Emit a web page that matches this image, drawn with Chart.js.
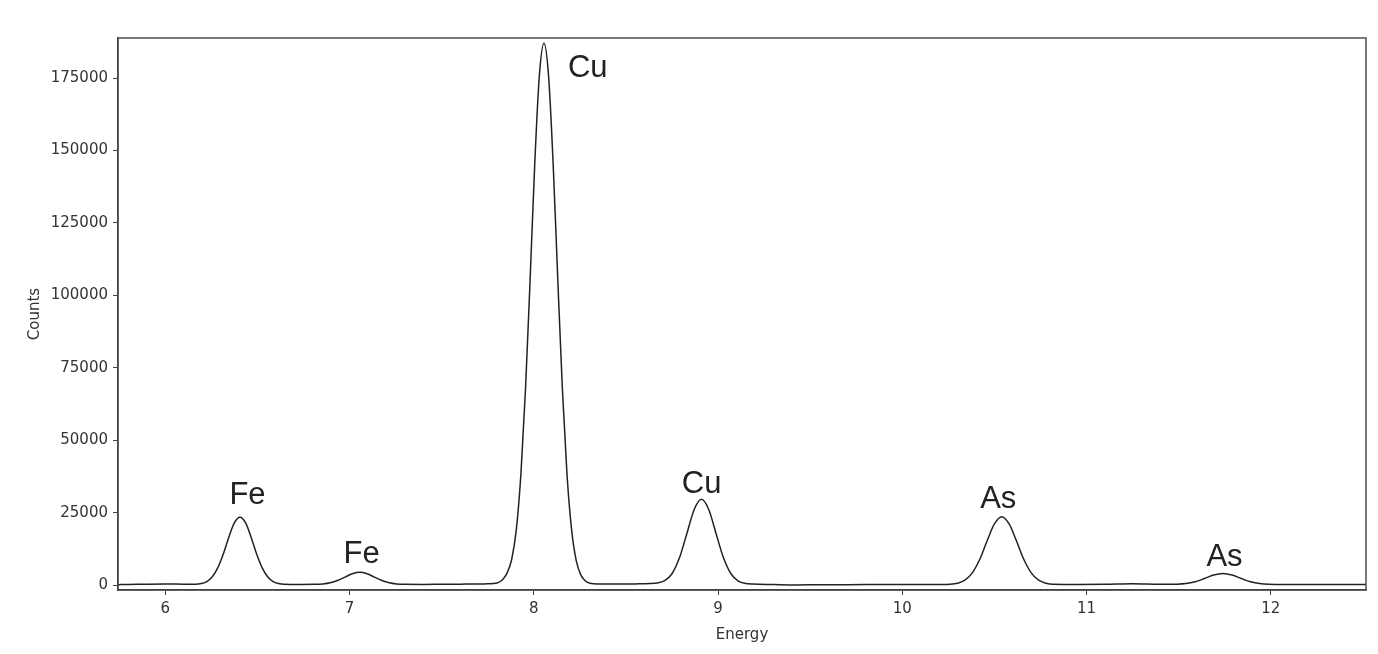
<!DOCTYPE html>
<html>
<head>
<meta charset="utf-8">
<script src="https://cdn.jsdelivr.net/npm/chart.js@4/dist/chart.umd.min.js"></script>
<style>
  html, body { margin: 0; padding: 0; background: #ffffff; }
  .chart-box { width: 1378px; height: 654px; }
</style>
</head>
<body>
<div class="chart-box">
  <canvas id="spectrum" width="1378" height="654"></canvas>
</div>
<script>
// Spectrum (energy in keV, counts)
const energy = [
  5.743, 5.80, 5.90, 6.00, 6.10,
  6.165, 6.195, 6.225, 6.255, 6.285, 6.315, 6.345, 6.375, 6.405, 6.435, 6.465, 6.495, 6.525, 6.555, 6.585, 6.615, 6.645,
  6.73,
  6.815, 6.855, 6.895, 6.935, 6.975, 7.015, 7.055, 7.095, 7.135, 7.175, 7.215, 7.255, 7.295,
  7.40, 7.50, 7.60, 7.70,
  7.75, 7.80, 7.83, 7.855, 7.88, 7.905, 7.93, 7.955, 7.98, 8.005, 8.03, 8.055, 8.08, 8.105, 8.13, 8.155, 8.18, 8.205, 8.23, 8.255, 8.28, 8.305, 8.35,
  8.45, 8.55,
  8.63, 8.67, 8.71, 8.75, 8.79, 8.83, 8.87, 8.91, 8.95, 8.99, 9.03, 9.07, 9.11, 9.15, 9.19,
  9.30, 9.42, 9.55, 9.70, 9.90, 10.10, 10.20,
  10.26, 10.30, 10.34, 10.38, 10.42, 10.46, 10.50, 10.54, 10.58, 10.62, 10.66, 10.70, 10.74, 10.78, 10.82,
  10.95, 11.10, 11.25, 11.40,
  11.49, 11.54, 11.59, 11.64, 11.69, 11.74, 11.79, 11.84, 11.89, 11.94, 11.99,
  12.10, 12.25, 12.40, 12.517
];
const counts = [
  250, 300, 420, 480, 400,
  390, 630, 1300, 2950, 6100, 10900, 16700, 21600, 23500, 21600, 16700, 10900, 6100, 2950, 1300, 630, 390,
  320,
  350, 480, 870, 1660, 2850, 4000, 4500, 4000, 2850, 1660, 870, 480, 350,
  330, 380, 420, 470,
  550, 800, 1900, 4300, 9000, 19200, 38400, 67800, 105700, 145300, 175800, 187000, 175800, 145300, 105700, 67800, 38400, 19200, 8600, 3600, 1500, 700, 480,
  450, 500,
  600, 800, 1600, 4000, 9400, 17700, 26100, 29700, 26100, 17700, 9400, 4000, 1500, 660, 450,
  300, 150, 220, 250, 260, 300, 330,
  400, 735, 1770, 4300, 8900, 15300, 21200, 23700, 21200, 15300, 8900, 4300, 1770, 735, 400,
  330, 380, 550, 380,
  420, 620, 1250, 2350, 3560, 4100, 3560, 2350, 1250, 620, 400,
  330, 300, 320, 330
];

// Peak labels
const peakNames = ["Fe", "Fe", "Cu", "Cu", "As", "As"];
const peakEnergy = [6.446, 7.065, 8.293, 8.911, 10.521, 11.749];
const peakCounts = [27900, 7800, 175200, 31900, 26800, 6800];

// Axis ticks
const energyTicks = [6, 7, 8, 9, 10, 11, 12];
const countTicks = [0, 25000, 50000, 75000, 100000, 125000, 150000, 175000];

const INK = "#222222";
const AXIS = "#444444";
const tickFont = { family: "'DejaVu Sans'", size: 15 };

// Full box round the plot, like the reference
const frame = {
  id: "frame",
  afterDraw: (chart) => {
    const { ctx, chartArea: a } = chart;
    ctx.save();
    ctx.strokeStyle = AXIS;
    ctx.lineWidth = 1.4;
    ctx.strokeRect(a.left, a.top, a.right - a.left, a.bottom - a.top);
    ctx.restore();
  }
};

// Element names drawn at data positions
const peakLabels = {
  id: "peakLabels",
  afterDatasetsDraw: (chart) => {
    const { ctx, scales } = chart;
    ctx.save();
    ctx.fillStyle = INK;
    ctx.font = "31px 'Liberation Sans'";
    ctx.textAlign = "center";
    ctx.textBaseline = "alphabetic";
    peakNames.forEach((name, i) => {
      ctx.fillText(name, scales.x.getPixelForValue(peakEnergy[i]), scales.y.getPixelForValue(peakCounts[i]));
    });
    ctx.restore();
  }
};

const ctx = document.getElementById("spectrum").getContext("2d");
new Chart(ctx, {
  type: "line",
  data: {
    datasets: [{
      data: energy.map((e, i) => ({ x: e, y: counts[i] })),
      borderColor: INK,
      borderWidth: 1.5,
      pointRadius: 0,
      fill: false,
      cubicInterpolationMode: "monotone"
    }]
  },
  options: {
    responsive: false,
    animation: false,
    layout: { padding: { top: 38, right: 12, bottom: 0, left: 0 } },
    plugins: { legend: { display: false }, tooltip: { enabled: false } },
    scales: {
      x: {
        type: "linear",
        min: 5.743,
        max: 12.517,
        afterBuildTicks: (s) => { s.ticks = energyTicks.map(v => ({ value: v })); },
        afterFit: (s) => { s.height = 64; },
        grid: { drawOnChartArea: false, drawTicks: true, tickLength: 5, color: AXIS },
        border: { display: true, color: AXIS, width: 1.4 },
        ticks: { font: tickFont, color: "#333333", padding: 5, maxRotation: 0, callback: v => String(v) },
        title: { display: true, text: "Energy", font: tickFont, color: "#333333", padding: { top: 0, bottom: 10 } }
      },
      y: {
        type: "linear",
        min: -1600,
        max: 188800,
        afterBuildTicks: (s) => { s.ticks = countTicks.map(v => ({ value: v })); },
        afterFit: (s) => { s.width = 118; },
        grid: { drawOnChartArea: false, drawTicks: true, tickLength: 5, color: AXIS },
        border: { display: true, color: AXIS, width: 1.4 },
        ticks: { font: tickFont, color: "#333333", padding: 5, callback: v => String(v) },
        title: { display: true, text: "Counts", font: tickFont, color: "#333333", padding: { top: 26, bottom: 0 } }
      }
    }
  },
  plugins: [frame, peakLabels]
});
</script>
</body>
</html>
